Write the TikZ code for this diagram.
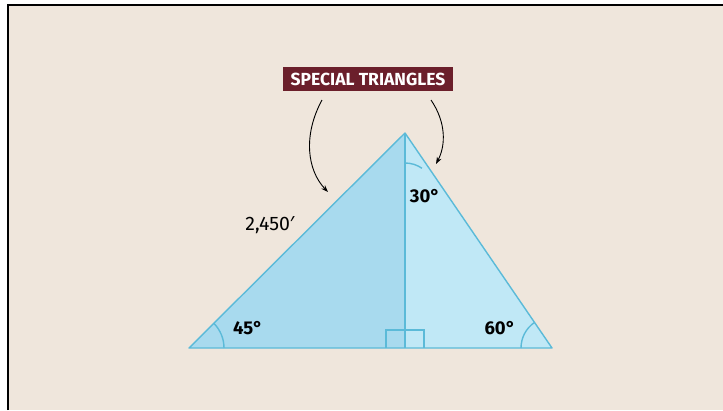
\documentclass[tikz,border=0pt]{standalone}
\usepackage{fontspec}
\setmainfont{Fira Sans}
\newfontfamily\primefont{Noto Sans}
\usetikzlibrary{arrows.meta}
\definecolor{bg}{HTML}{EFE6DC}
\definecolor{leftfill}{HTML}{A8DAEE}
\definecolor{rightfill}{HTML}{C0E8F6}
\definecolor{edge}{HTML}{5BBAD8}
\definecolor{maroon}{HTML}{6B1F2B}
\tikzset{
  edgeline/.style={draw=edge, line width=1.4pt},
  anglelabel/.style={font=\fontsize{18.5}{18.5}\selectfont\bfseries, text=black, inner sep=0},
  callout/.style={-{Stealth[length=7pt,width=5pt]}, line width=0.9pt, black},
}
\begin{document}
\begin{tikzpicture}[x=1pt,y=-1pt]
\useasboundingbox (0,0) rectangle (723,410);
\fill[white] (0,0) rectangle (723,410);
\fill[bg] (8,5) rectangle (723,410);
\draw[black, line width=2.2pt] (8,410) -- (8,5) -- (723,5);
% vertices
\coordinate (A) at (405,133);
\coordinate (L) at (189,348);
\coordinate (R) at (552,348);
\coordinate (F) at (405,348);
% fills
\fill[leftfill] (A) -- (L) -- (F) -- cycle;
\fill[rightfill] (A) -- (F) -- (R) -- cycle;
% right-angle box
\draw[edgeline] (386,348) -- (386,330) -- (424,330) -- (424,348);
% angle arcs
\draw[edgeline] (224,348) arc[start angle=0, end angle=-45, radius=35];
\draw[edgeline] (521,348) arc[start angle=180, end angle=235.6, radius=31];
\draw[edgeline] (405,163) arc[start angle=-90, end angle=-55.6, radius=30];
% edges
\draw[edgeline, line join=round] (A) -- (L) -- (R) -- cycle;
\draw[edgeline] (A) -- (F);
% labels
\node[anglelabel] (a45) at (248,328) {45°};
\node[anglelabel] (a60) at (500,328) {60°};
\node[anglelabel] (a30) at (425,196) {30°};
\node[font=\fontsize{19.5}{19.5}\selectfont, inner sep=0] (len) at (270,225) {2,450{\primefont ′}};
\node[fill=maroon, text=white, font=\fontsize{17.5}{17.5}\selectfont\bfseries, minimum width=170pt, minimum height=24pt, inner sep=0] (title) at (368,79) {SPECIAL TRIANGLES};
% callout arrows
\coordinate (s1) at (322,100);
\coordinate (e1) at (328,192);
\coordinate (s2) at (431,100);
\coordinate (e2) at (436,164);
\draw[callout] (s1) .. controls (303,135) and (307,170) .. (e1);
\draw[callout] (s2) .. controls (446,122) and (446,145) .. (e2);
\end{tikzpicture}
\end{document}
